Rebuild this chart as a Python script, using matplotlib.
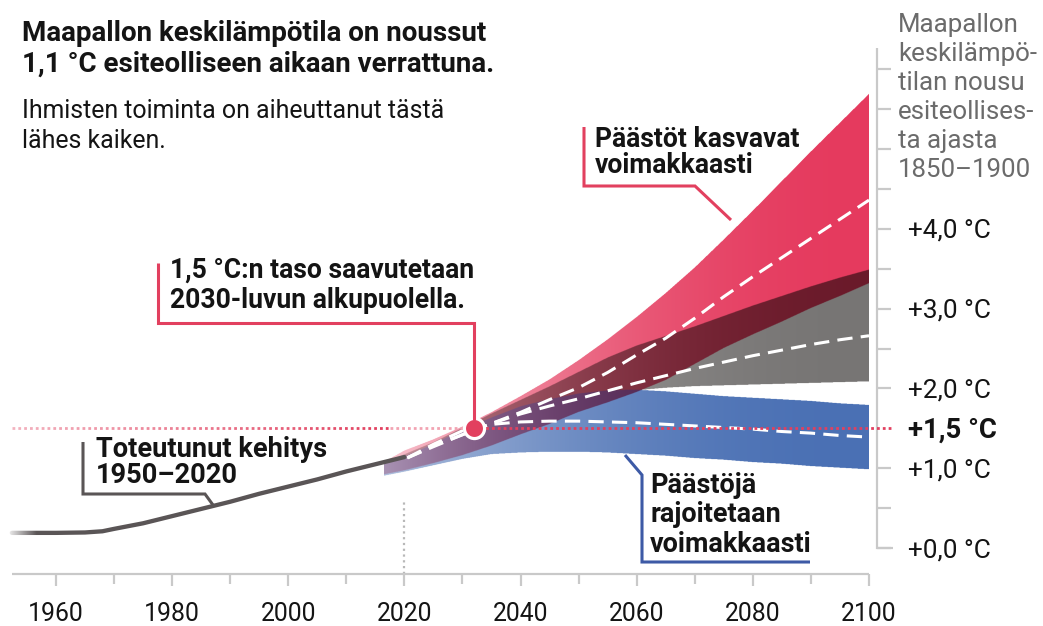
import numpy as np
import matplotlib
matplotlib.use("Agg")
import matplotlib.pyplot as plt
from matplotlib.lines import Line2D
from matplotlib.transforms import offset_copy

plt.rcParams["font.family"] = ["Roboto", "DejaVu Sans"]

# ---------------------------------------------------------------- data
hist_years = [1952.4, 1955, 1960, 1965, 1968, 1970, 1975, 1980, 1985,
              1990, 1995, 2000, 2005, 2010, 2015, 2020]
hist_temp = [0.19, 0.19, 0.19, 0.195, 0.21, 0.24, 0.31, 0.40, 0.49,
             0.58, 0.68, 0.77, 0.86, 0.96, 1.05, 1.14]

proj_years = [2016.5, 2020, 2025, 2030, 2035, 2040, 2045, 2050, 2055,
              2060, 2065, 2070, 2075, 2080, 2085, 2090, 2095, 2100]
high_upper = [1.08, 1.22, 1.36, 1.52, 1.70, 1.90, 2.11, 2.35, 2.61,
              2.89, 3.19, 3.51, 3.86, 4.22, 4.59, 4.96, 5.32, 5.68]
high_lower = [0.92, 0.97, 1.06, 1.16, 1.28, 1.42, 1.55, 1.70, 1.82,
              1.95, 2.10, 2.30, 2.50, 2.67, 2.83, 3.00, 3.15, 3.31]
mid_upper = [1.07, 1.17, 1.32, 1.50, 1.68, 1.85, 2.02, 2.20, 2.38,
             2.53, 2.65, 2.77, 2.90, 3.03, 3.15, 3.27, 3.38, 3.48]
mid_lower = [0.92, 0.97, 1.08, 1.18, 1.30, 1.45, 1.60, 1.75, 1.88,
             1.97, 2.00, 2.02, 2.03, 2.04, 2.05, 2.06, 2.07, 2.08]
low_upper = [1.06, 1.14, 1.30, 1.48, 1.63, 1.77, 1.86, 1.93, 1.97,
             1.98, 1.96, 1.93, 1.90, 1.88, 1.86, 1.84, 1.81, 1.79]
low_lower = [0.90, 0.95, 1.03, 1.11, 1.17, 1.19, 1.20, 1.20, 1.19,
             1.17, 1.15, 1.12, 1.10, 1.07, 1.05, 1.02, 1.00, 0.98]

median_years = [2020.5, 2025, 2030, 2035, 2040, 2045, 2050, 2055, 2060,
                2065, 2070, 2075, 2080, 2085, 2090, 2095, 2100]
high_median = [1.13, 1.27, 1.42, 1.56, 1.70, 1.86, 2.01, 2.20, 2.42,
               2.63, 2.88, 3.15, 3.40, 3.64, 3.88, 4.12, 4.36]
mid_median = [1.13, 1.28, 1.42, 1.56, 1.68, 1.78, 1.87, 1.97, 2.07,
              2.16, 2.25, 2.33, 2.41, 2.48, 2.55, 2.61, 2.66]
low_median = [1.13, 1.30, 1.47, 1.55, 1.58, 1.59, 1.59, 1.58, 1.57,
              1.55, 1.53, 1.51, 1.49, 1.46, 1.44, 1.41, 1.39]

threshold = 1.5
threshold_year = 2032

year_ticks = list(range(1960, 2101, 10))
year_labels = ["1960", "1980", "2000", "2020", "2040", "2060", "2080", "2100"]
temp_ticks = [0.5 * i for i in range(13)]
temp_label_values = [0.0, 1.0, 1.5, 2.0, 3.0, 4.0]
temp_labels = ["+0,0 °C", "+1,0 °C", "+1,5 °C", "+2,0 °C", "+3,0 °C", "+4,0 °C"]

title_lines = ["Maapallon keskilämpötila on noussut",
               "1,1 °C esiteolliseen aikaan verrattuna."]
subtitle_lines = ["Ihmisten toiminta on aiheuttanut tästä", "lähes kaiken."]
axis_title_lines = ["Maapallon", "keskilämpö-", "tilan nousu",
                    "esiteollises-", "ta ajasta", "1850–1900"]

# ---------------------------------------------------------------- colours
INK = "#141414"
RED = "#e2405f"
GRAYLINE = "#5a5556"
BLUE_LINE = "#3d5aa6"
AXIS = "#c9c9c9"

COL_R = np.array([0xe5, 0x3a, 0x5e]) / 255
COL_G = np.array([0x77, 0x75, 0x74]) / 255
COL_B = np.array([0x4a, 0x70, 0xb4]) / 255

# ---------------------------------------------------------------- figure
W, H = 1043, 626
fig = plt.figure(figsize=(W / 100, H / 100), dpi=100)
ax = fig.add_axes([0, 0, 1, 1])
ax.set_axis_off()
XLIM = (1950.36, 2129.96)
YLIM = (-0.977, 6.867)


def P(x, y):
    """pixel position (from top-left) -> figure fraction"""
    return x / W, 1 - y / H


# scenario bands: grey underneath, blue over it, red multiplied on top;
# each band fades towards white at its start
x0, x1 = proj_years[0], proj_years[-1]
y0, y1 = 0.8, 5.8
nx, ny = 1500, 1200
xs = np.linspace(x0, x1, nx)
ys = np.linspace(y0, y1, ny)
Y = ys[:, None]
t = (xs - x0) / (x1 - x0)


def inside(lo, hi):
    lo_c = np.interp(xs, proj_years, lo)[None, :]
    hi_c = np.interp(xs, proj_years, hi)[None, :]
    return ((Y >= lo_c) & (Y <= hi_c))[..., None]


def faded(col, strength):
    a = 1 - strength * (1 - t) ** 2
    c = 1 - a[None, :, None] * (1 - col[None, None, :])
    return np.broadcast_to(c, (ny, nx, 3))


inR = inside(high_lower, high_upper)
inG = inside(mid_lower, mid_upper)
inB = inside(low_lower, low_upper)

rgb = np.ones((ny, nx, 3))
rgb = np.where(inG, faded(COL_G, 0.65), rgb)
rgb = np.where(inB, faded(COL_B, 0.55), rgb)
rgb = np.where(inR, rgb * faded(COL_R, 0.70), rgb)
alpha = (inR | inG | inB)[..., 0].astype(float)
img = np.dstack([rgb, alpha])
ax.imshow(img, extent=(x0, x1, y0, y1), origin="lower", aspect="auto",
          interpolation="antialiased", zorder=1)

# median projections
dash = (0, (5, 2.7))
for med in (high_median, mid_median, low_median):
    ax.plot(median_years, med, color="white", lw=2.2, ls=dash,
            dash_capstyle="butt", zorder=3)

# observed warming
ax.plot(hist_years, hist_temp, color=GRAYLINE, lw=3.1,
        solid_capstyle="round", zorder=4)
fade_l = np.ones((1, 64, 4))
fade_l[0, :, 3] = np.linspace(0.95, 0.0, 64)
ax.imshow(fade_l, extent=(1951.5, 1956.5, 0.05, 0.33), aspect="auto",
          interpolation="bilinear", zorder=4.5)

# 1.5 degree reference
dots = (0, (1.0, 1.1))
ax.plot([1952.4, 2017.5], [threshold, threshold], color=RED, lw=2.0,
        ls=dots, zorder=3)
ax.plot([2017.5, threshold_year], [threshold, threshold], color="#f2a3b2",
        lw=2.0, ls=dots, zorder=3)
ax.plot([threshold_year, 2103.8], [threshold, threshold], color=RED,
        lw=2.0, ls=dots, zorder=3)
fade_d = np.ones((1, 128, 4))
fade_d[0, :, 3] = np.linspace(0.62, 0.0, 128)
ax.imshow(fade_d, extent=(1951.0, 2017.0, 1.45, 1.55), aspect="auto",
          interpolation="bilinear", zorder=3.5)
ax.plot([threshold_year], [threshold], "o", ms=14.5, mfc=RED, mec="white",
        mew=2.3, zorder=7)

# 2020 marker
ax.plot([2020, 2020], [-0.326, 0.58], color="#b8b8b8", lw=1.6,
        ls=(0, (1, 1.6)), zorder=2)

# x axis
ax.plot([1952.4, 2100], [-0.326, -0.326], color=AXIS, lw=1.6,
        solid_capstyle="butt", zorder=2)
for yr in year_ticks:
    major = str(yr) in year_labels
    ax.plot([yr, yr], [-0.326, -0.326 - (0.155 if major else 0.13)],
            color=AXIS, lw=1.6, solid_capstyle="butt", zorder=2)
xlabels = []
for s in year_labels:
    xlabels.append(ax.text(int(s), -0.915, s, ha="center", va="baseline",
                           color=INK, fontsize=17, zorder=5))

# temperature axis on the right
RX, RT = 2101.4, 2103.8
ax.plot([RX, RX, 2104.1], [6.265, 0.0, 0.0], color=AXIS, lw=1.6,
        solid_capstyle="butt", solid_joinstyle="miter", zorder=2)
for v in temp_ticks:
    if v == threshold:
        continue
    ax.plot([RX, RT], [v, v], color=AXIS, lw=1.6, solid_capstyle="butt",
            zorder=2)
lab_trans = offset_copy(ax.transData, fig=fig, y=-6.5, units="points")
tlabels = []
tbold = None
for v, s in zip(temp_label_values, temp_labels):
    bold = v == threshold
    tt = ax.text(2106.7, v, s, transform=lab_trans, ha="left",
                 va="baseline", color=INK, fontsize=17,
                 fontweight="bold" if bold else "normal")
    if bold:
        tbold = tt
    else:
        tlabels.append(tt)


def block(x, y0_, lines, dy, **kw):
    return [fig.text(*P(x, y0_ + i * dy), s, ha="left", va="baseline", **kw)
            for i, s in enumerate(lines)]


title = block(22, 41, title_lines, 31, color=INK, fontsize=19,
              fontweight="bold")
subtitle = block(22, 118, subtitle_lines, 30, color=INK, fontsize=18)
axis_title = block(898, 32, axis_title_lines, 29, color="#6b6b6b",
                   fontsize=18)

c_high = block(595, 147, ["Päästöt kasvavat", "voimakkaasti"], 26,
               color=INK, fontsize=17, fontweight="bold")
c_cross = block(170, 278, ["1,5 °C:n taso saavutetaan",
                           "2030-luvun alkupuolella."], 30,
                color=INK, fontsize=17, fontweight="bold")
c_hist = block(96, 457, ["Toteutunut kehitys", "1950–2020"], 26,
               color=INK, fontsize=17, fontweight="bold")
c_low = block(650, 493, ["Päästöjä", "rajoitetaan", "voimakkaasti"], 29.5,
              color=INK, fontsize=17, fontweight="bold")


def leader(pts, color):
    xs_, ys_ = zip(*[P(px, py) for px, py in pts])
    fig.add_artist(Line2D(xs_, ys_, transform=fig.transFigure, color=color,
                          lw=2.2, solid_joinstyle="miter",
                          solid_capstyle="butt", zorder=6))


leader([(584, 127), (584, 186), (695, 186), (731, 220)], RED)
leader([(158, 263), (158, 323), (474, 323), (474, 420)], RED)
leader([(83, 442), (83, 494), (205, 494), (213, 505)], GRAYLINE)
leader([(625, 455), (642, 475), (642, 562), (810, 562)], BLUE_LINE)

ax.set_xlim(*XLIM)
ax.set_ylim(*YLIM)

# size each text block to its measured width
fig.canvas.draw()
renderer = fig.canvas.get_renderer()


def fit(texts, target, ref=0):
    w = texts[ref].get_window_extent(renderer).width
    s = texts[ref].get_fontsize() * target / w
    for tx in texts:
        tx.set_fontsize(s)


fit(title, 465)
fit(subtitle, 423)
fit(axis_title, 139, ref=1)
fit(xlabels, 56, ref=4)
fit(tlabels, 83, ref=len(tlabels) - 1)
fit([tbold], 89)
fit(c_high, 205)
fit(c_cross, 305)
fit(c_hist, 231)
fit(c_low, 162, ref=2)

fig.savefig("out.png", dpi=100, facecolor="white")
